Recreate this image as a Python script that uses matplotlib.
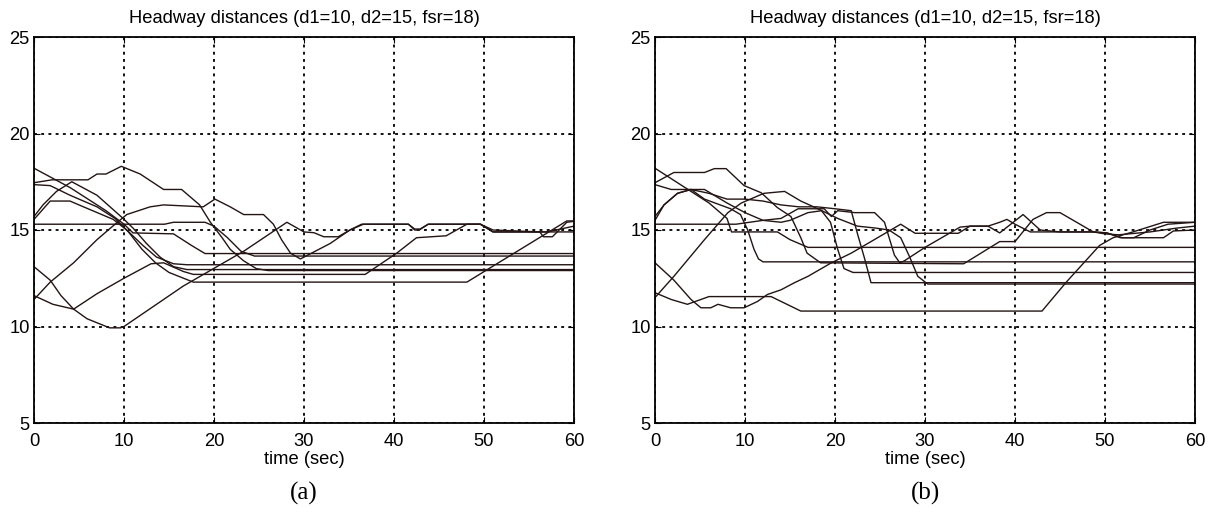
import matplotlib
matplotlib.use("Agg")
import matplotlib.pyplot as plt
import numpy as np

# ---------------- data: panel (a) ----------------
a1_t = [0, 4, 8, 10, 11, 15.5, 17.5, 19, 60]
a1_y = [18.2, 17.2, 16.0, 15.3, 14.85, 14.8, 14.2, 13.78, 13.78]
a2_t = [0, 2, 6, 7, 8, 9.7, 11.8, 14.4, 16.4, 18.4, 19.6, 20.9, 21.8, 23.3, 24.7, 26, 60]
a2_y = [17.45, 17.6, 17.6, 17.9, 17.9, 18.3, 17.9, 17.1, 17.1, 16.3, 15.4, 14.6, 14.0, 13.4, 13.0, 12.9, 12.9]
a3_t = [0, 1.8, 4, 7, 9, 10.5, 12, 13.5, 15, 17.7, 48.1, 59.2, 60]
a3_y = [17.35, 17.3, 16.8, 16.2, 15.6, 14.9, 14.0, 13.3, 12.8, 12.3, 12.3, 15.47, 15.47]
a4_t = [0, 1.8, 4, 5.5, 8.8, 10.3, 12.1, 13.6, 15.5, 17, 60]
a4_y = [15.55, 16.5, 16.5, 16.2, 15.55, 15.0, 14.2, 13.6, 13.25, 13.2, 13.2]
a5_t = [0, 1, 2.5, 4.2, 7, 9.9, 11, 12.5, 14, 15.5, 17, 60]
a5_y = [15.7, 16.3, 17.0, 17.5, 16.8, 15.6, 15.1, 14.3, 13.6, 13.1, 12.95, 12.95]
a6_t = [0, 14.5, 15.5, 19, 20, 21.5, 23, 24.5, 60]
a6_y = [15.3, 15.3, 15.4, 15.4, 15.2, 14.6, 13.9, 13.65, 13.65]
a7_t = [0, 1.8, 3, 4.4, 5.9, 8.4, 9.6, 10, 16.6, 23.3, 28.1, 30, 31.1, 32.2, 33.8, 35.1,
        36.4, 41.6, 42.3, 42.8, 43.8, 49.6, 51, 56.2, 60]
a7_y = [13.1, 12.4, 11.6, 10.9, 10.4, 9.93, 9.93, 10.0, 12.1, 13.9, 15.4, 14.9, 14.86, 14.65,
        14.65, 15.0, 15.3, 15.3, 15.0, 15.0, 15.3, 15.3, 14.9, 14.9, 14.9]
a8_t = [0, 1.8, 4.4, 7, 8.5, 10.3, 12.9, 14.4, 18.8, 20.1, 21.8, 23.3, 25.5, 26.6, 27.5,
        28.5, 29.6, 32.9, 35.1, 36.6, 41.6, 42.3, 42.9, 43.8, 49.6, 51, 56.2, 57, 59, 60]
a8_y = [11.4, 12.3, 13.3, 14.5, 15.1, 15.8, 16.2, 16.3, 16.2, 16.6, 16.2, 15.8, 15.8, 15.3,
        14.5, 13.8, 13.5, 14.3, 15.0, 15.3, 15.3, 15.05, 15.05, 15.3, 15.3, 14.9, 14.9, 14.9,
        15.1, 15.2]
a9_t = [0, 2.1, 4.4, 7, 10, 13, 14.4, 16.6, 17.7, 36.8, 40.3, 42.5, 45.8, 48.1, 49.6, 51,
        56.2, 56.6, 57.6, 59.2, 60]
a9_y = [11.6, 11.15, 10.9, 11.7, 12.5, 13.25, 13.3, 12.85, 12.7, 12.7, 13.8, 14.6, 14.7,
        15.3, 15.3, 15.0, 14.9, 14.65, 14.65, 15.4, 15.45]

# ---------------- data: panel (b) ----------------
b1_t = [0, 3, 6, 8, 8.5, 13.6, 15, 17, 60]
b1_y = [18.2, 17.3, 16.4, 15.6, 14.9, 14.9, 14.5, 14.1, 14.1]
b2_t = [0, 2.1, 5.5, 6.6, 7.9, 9.9, 11.8, 13.6, 15.1, 16.2, 16.9, 18.4, 34.3, 38.3, 40,
        42, 43.5, 45, 48.7, 50.2, 51.7, 53.2, 55, 57, 60]
b2_y = [17.45, 17.98, 17.98, 18.18, 18.18, 17.3, 16.93, 16.16, 15.7, 14.6, 13.8, 13.3,
        13.25, 14.4, 14.4, 15.55, 15.9, 15.9, 14.9, 14.85, 14.6, 14.6, 15.0, 15.3, 15.4]
b3_t = [0, 1.8, 4, 5.5, 8.4, 9.5, 10.3, 11, 11.5, 12, 60]
b3_y = [17.35, 17.1, 17.1, 16.6, 16.1, 15.8, 15.0, 14.0, 13.5, 13.35, 13.35]
b4_t = [0, 1, 2.5, 4, 5.5, 8, 10, 12, 14, 15, 17, 18.5, 19.5, 20.3, 21, 22, 60]
b4_y = [15.5, 16.3, 16.9, 17.1, 17.1, 16.4, 15.9, 15.5, 15.4, 15.5, 15.9, 16.0, 15.4,
        14.0, 13.0, 12.8, 12.8]
b5_t = [0, 9, 12, 14, 15.9, 18.8, 19.6, 20.3, 22.2, 24.4, 25.5, 26.6, 27.2, 27.7, 30,
        33.9, 35, 37, 38.3, 39.1, 40, 41.7, 48.7, 50.2, 51.9, 56.5, 57.6, 60]
b5_y = [15.3, 15.3, 15.5, 15.6, 16.1, 16.1, 15.7, 16.0, 15.9, 15.9, 15.4, 13.7, 13.3,
        13.4, 14.1, 15.15, 15.2, 15.2, 15.4, 15.55, 15.3, 14.9, 14.9, 14.85, 14.6, 14.6,
        14.95, 15.0]
b6_t = [0, 1, 2.5, 4, 6, 8, 10, 12, 14, 16, 18, 20, 21.8, 22.5, 23.3, 24, 60]
b6_y = [15.7, 16.3, 16.9, 17.1, 16.9, 16.6, 16.6, 16.5, 16.3, 16.2, 16.2, 16.1, 16.0,
        14.8, 13.5, 12.27, 12.27]
b7_t = [0, 2.1, 5.5, 8.1, 9.6, 12.1, 14.4, 16.2, 18.1, 20.3, 22.5, 24.5, 26, 27.3, 28.3,
        29.2, 30.3, 60]
b7_y = [11.5, 12.6, 14.5, 15.9, 16.4, 16.9, 17.0, 16.5, 16.1, 15.6, 15.2, 15.1, 15.0,
        14.6, 13.6, 12.6, 12.2, 12.2]
b8_t = [0, 1.8, 3.6, 5.1, 6, 12.9, 14, 16.2, 43, 45.7, 49.4, 50.9, 53.1, 56.5, 60]
b8_y = [11.75, 11.4, 11.15, 11.4, 11.55, 11.55, 11.3, 10.8, 10.8, 12.3, 14.2, 14.6, 14.9,
        15.4, 15.4]
b9_t = [0, 2.1, 4, 5.1, 6.2, 7, 8.4, 9.9, 11.4, 12.5, 14, 15.5, 17, 19.6, 21.8, 27.3,
        28.9, 33.7, 35, 37, 38.3, 40.9, 42.8, 45, 48.7, 50, 51.5, 55, 58, 60]
b9_y = [13.3, 12.4, 11.4, 10.97, 10.97, 11.15, 10.97, 10.97, 11.3, 11.66, 11.9, 12.27,
        12.6, 13.3, 13.8, 15.3, 14.83, 14.83, 15.2, 15.2, 14.85, 15.8, 15.0, 14.9, 14.9,
        14.8, 14.75, 14.9, 15.1, 15.2]

panel_a = [(a1_t, a1_y), (a2_t, a2_y), (a3_t, a3_y), (a4_t, a4_y), (a5_t, a5_y),
           (a6_t, a6_y), (a7_t, a7_y), (a8_t, a8_y), (a9_t, a9_y)]
panel_b = [(b1_t, b1_y), (b2_t, b2_y), (b3_t, b3_y), (b4_t, b4_y), (b5_t, b5_y),
           (b6_t, b6_y), (b7_t, b7_y), (b8_t, b8_y), (b9_t, b9_y)]

x_ticks = [0, 10, 20, 30, 40, 50, 60]
y_ticks = [5, 10, 15, 20, 25]
title = "Headway distances (d1=10, d2=15, fsr=18)"
xlabel = "time (sec)"
captions = ["(a)", "(b)"]

plt.rcParams['font.family'] = ['Liberation Sans', 'DejaVu Sans']

fig = plt.figure(figsize=(12.13, 5.16), dpi=100)
W, H = 1213, 516
boxes = [(34, 574), (655, 1195)]
top, bottom = 37, 423
fs = 13.2

for (l, r), data, cap in zip(boxes, [panel_a, panel_b], captions):
    ax = fig.add_axes([l / W, 1 - bottom / H, (r - l) / W, (bottom - top) / H])
    for t, y in data:
        ax.plot(t, y, color='#241414', lw=1.0)
    ax.set_xlim(0, 60)
    ax.set_ylim(5, 25)
    ax.set_xticks(x_ticks)
    ax.set_yticks(y_ticks)
    ax.grid(True, color='black', linestyle=(0, (1.6, 2.4)), lw=1.3)
    ax.tick_params(direction='in', length=4, top=True, right=True, labelsize=fs,
                   width=0.8)
    ax.tick_params(axis='x', pad=7)
    ax.tick_params(axis='y', pad=3)
    for s in ax.spines.values():
        s.set_linewidth(1.3)
        s.set_color('black')
    ax.set_title(title, fontsize=fs, pad=10)
    ax.set_xlabel(xlabel, fontsize=fs, labelpad=1)
    fig.text((l + r) / 2 / W, 1 - 493 / H, cap, ha='center', va='center',
             fontsize=18, family='Liberation Serif')

fig.savefig("out.png", dpi=100)
